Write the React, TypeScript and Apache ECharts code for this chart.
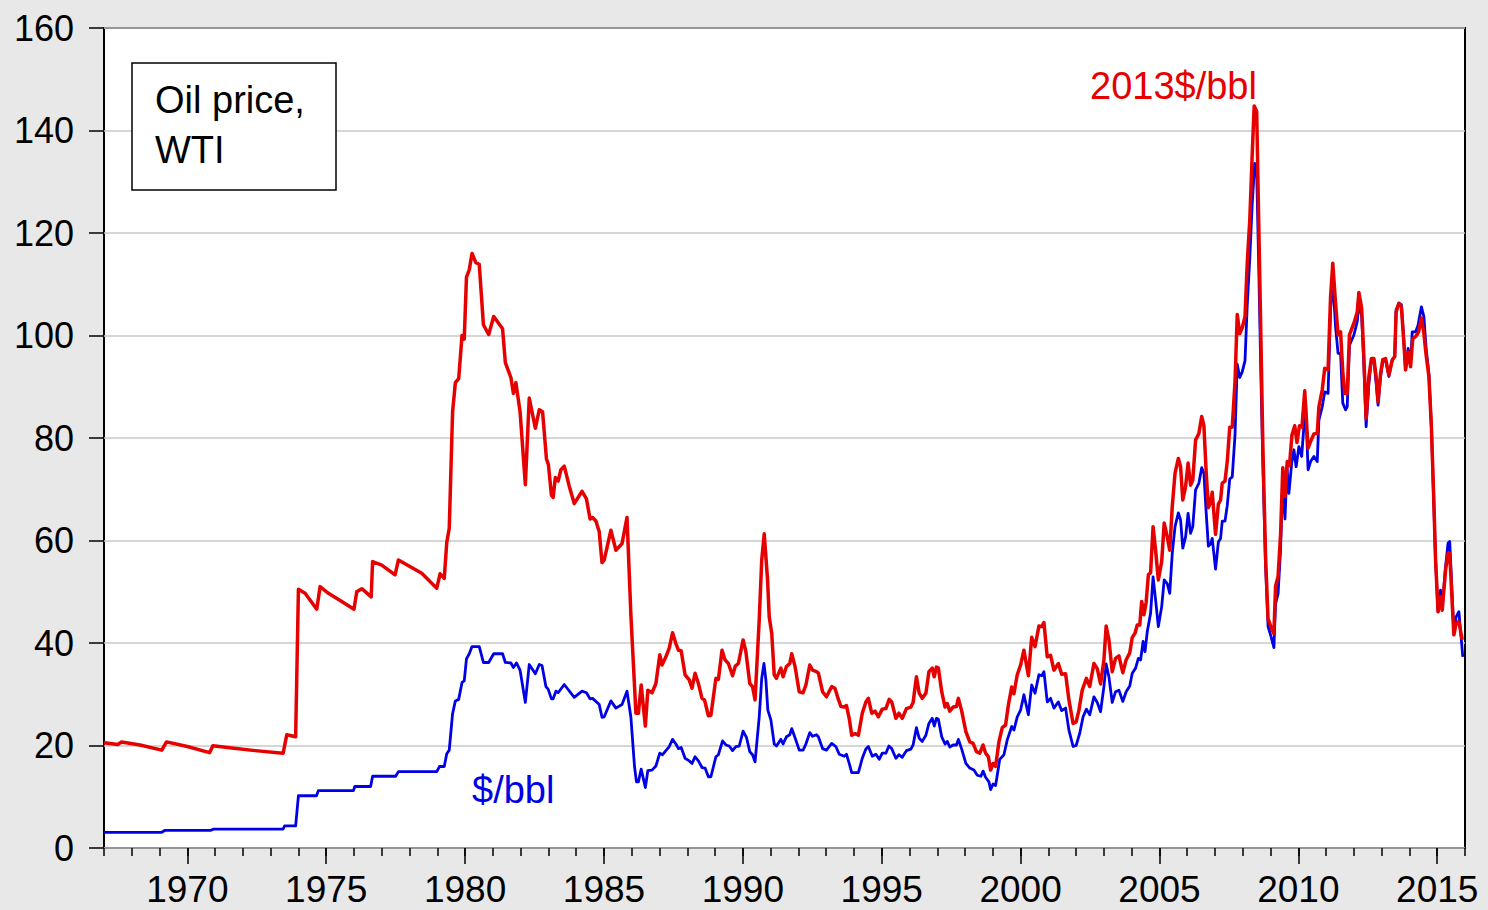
import React, { useEffect, useRef } from "react";
import * as echarts from "echarts";

const majorYears = [1970, 1975, 1980, 1985, 1990, 1995, 2000, 2005, 2010, 2015];

const nominal: [number, number][] = [
  [1967.0,3.06],[1969.08,3.06],[1969.2,3.45],[1970.85,3.45],[1970.95,3.7],[1973.45,3.7],[1973.5,4.3],[1973.9,4.3],[1974.0,10.2],[1974.65,10.2],[1974.72,11.2],[1975.98,11.2],[1976.03,12.0],[1976.6,12.0],[1976.67,14.0],[1977.5,14.0],[1977.6,14.9],[1978.98,14.9],[1979.08,15.9],[1979.25,15.9],[1979.34,18.4],[1979.43,19.1],[1979.55,26.2],[1979.65,28.7],[1979.77,29.0],[1979.89,32.3],[1979.97,32.6],[1980.05,36.9],[1980.15,37.9],[1980.25,39.3],[1980.51,39.3],[1980.66,36.2],[1980.85,36.2],[1981.03,37.9],[1981.35,37.9],[1981.45,36.2],[1981.65,36.1],[1981.74,35.2],[1981.85,36.1],[1981.98,34.7],[1982.17,28.4],[1982.31,35.8],[1982.53,34.0],[1982.67,35.8],[1982.77,35.6],[1982.91,31.5],[1982.99,31.0],[1983.11,29.1],[1983.17,29.1],[1983.27,30.6],[1983.35,30.3],[1983.57,31.9],[1983.93,29.4],[1984.21,30.6],[1984.37,30.3],[1984.5,29.1],[1984.59,29.2],[1984.83,28.0],[1984.93,25.5],[1985.01,25.6],[1985.25,28.7],[1985.43,27.3],[1985.65,28.0],[1985.83,30.6],[1985.97,25.5],[1986.1,15.9],[1986.17,12.9],[1986.24,12.9],[1986.34,15.4],[1986.49,11.8],[1986.58,15.1],[1986.73,15.2],[1986.87,16.0],
  [1987.01,18.5],[1987.11,18.2],[1987.23,19.0],[1987.35,19.8],[1987.47,21.2],[1987.59,20.3],[1987.68,19.4],[1987.78,19.6],[1987.92,17.5],[1988.07,17.0],[1988.17,16.5],[1988.28,17.8],[1988.4,17.0],[1988.53,15.7],[1988.64,15.6],[1988.76,13.9],[1988.85,13.9],[1989.03,17.8],[1989.12,18.2],[1989.27,20.9],[1989.39,20.1],[1989.51,19.9],[1989.63,19.0],[1989.75,19.8],[1989.87,19.9],[1990.01,22.8],[1990.13,21.6],[1990.25,18.8],[1990.35,18.2],[1990.44,16.8],[1990.59,25.6],[1990.68,33.1],[1990.76,36.0],[1990.83,32.8],[1990.9,26.9],[1991.01,25.0],[1991.13,20.3],[1991.21,19.9],[1991.37,21.2],[1991.45,20.3],[1991.57,21.7],[1991.69,22.1],[1991.76,23.3],[1991.88,21.5],[1992.03,19.1],[1992.17,19.1],[1992.27,20.3],[1992.41,22.5],[1992.51,21.8],[1992.65,22.1],[1992.72,21.7],[1992.87,19.4],[1993.01,19.1],[1993.2,20.4],[1993.35,19.8],[1993.47,18.3],[1993.65,17.9],[1993.73,18.3],[1993.83,16.5],[1993.92,14.7],[1994.16,14.7],[1994.3,17.5],[1994.43,19.3],[1994.52,19.8],[1994.66,17.9],[1994.79,18.3],[1994.91,17.3],[1995.02,18.5],[1995.15,18.5],[1995.26,19.9],[1995.36,19.4],[1995.51,17.5],[1995.62,18.2],[1995.74,17.7],[1995.89,19.0],[1996.05,19.3],[1996.13,20.1],[1996.25,23.5],[1996.35,21.4],[1996.46,20.8],[1996.59,22.0],[1996.7,24.3],[1996.82,25.3],[1996.89,23.8],[1996.97,25.3],[1997.04,25.1],[1997.16,21.7],[1997.28,20.3],[1997.36,20.8],[1997.45,19.7],[1997.57,20.1],[1997.69,20.1],[1997.76,21.2],[1997.88,19.3],[1998.03,16.5],[1998.17,15.6],[1998.32,15.2],[1998.44,14.2],[1998.57,14.0],[1998.65,15.0],[1998.74,13.8],[1998.86,12.9],[1998.92,11.4],[1999.01,12.5],[1999.1,12.2],[1999.25,17.3],[1999.4,18.2],[1999.52,21.1],[1999.68,23.7],[1999.76,23.0],[1999.88,25.6],
  [2000.0,26.9],[2000.12,29.9],[2000.28,26.0],[2000.4,31.8],[2000.52,30.2],[2000.66,33.8],[2000.76,33.6],[2000.84,34.4],[2000.96,28.5],[2001.08,29.2],[2001.2,27.3],[2001.36,28.5],[2001.48,26.8],[2001.62,27.3],[2001.74,23.0],[2001.89,19.8],[2002.0,20.0],[2002.13,22.4],[2002.25,25.6],[2002.37,27.1],[2002.49,26.0],[2002.64,29.5],[2002.76,28.4],[2002.88,26.6],[2003.0,31.5],[2003.08,35.9],[2003.18,33.4],[2003.3,28.4],[2003.42,30.5],[2003.54,30.8],[2003.68,28.6],[2003.8,30.5],[2003.93,31.6],[2004.02,34.1],[2004.14,35.1],[2004.24,37.0],[2004.32,36.7],[2004.41,40.3],[2004.48,38.3],[2004.56,42.2],[2004.68,45.8],[2004.77,52.9],[2004.86,48.4],[2004.96,43.2],[2005.08,47.1],[2005.17,52.3],[2005.28,51.6],[2005.37,49.7],[2005.46,57.5],[2005.56,62.7],[2005.68,65.4],[2005.76,64.0],[2005.84,58.5],[2005.94,60.7],[2006.03,65.3],[2006.12,61.4],[2006.2,62.7],[2006.3,69.9],[2006.42,71.2],[2006.52,74.2],[2006.6,73.1],[2006.68,65.6],[2006.76,58.9],[2006.84,59.3],[2006.9,60.4],[2006.96,57.4],[2007.02,54.4],[2007.12,59.7],[2007.2,60.4],[2007.26,63.8],[2007.36,63.8],[2007.44,66.8],[2007.53,72.0],[2007.62,72.4],[2007.72,80.6],[2007.8,94.4],[2007.89,91.8],[2007.98,92.9],[2008.08,95.1],[2008.16,106.0],[2008.25,114.9],[2008.34,125.8],[2008.43,133.6],[2008.5,132.1],[2008.58,111.9],[2008.65,92.5],[2008.72,75.4],[2008.82,55.2],[2008.91,43.2],[2009.01,41.4],[2009.12,39.1],[2009.18,47.7],[2009.27,49.6],[2009.36,58.2],[2009.43,70.5],[2009.52,64.2],[2009.59,74.4],[2009.66,69.2],[2009.76,75.1],[2009.84,77.7],[2009.92,74.4],
  [2010.02,78.3],[2010.12,76.4],[2010.26,86.8],[2010.35,73.8],[2010.44,75.4],[2010.56,76.4],[2010.68,75.4],[2010.74,83.5],[2010.86,86.1],[2010.95,89.0],[2011.07,88.7],[2011.16,105.0],[2011.24,110.8],[2011.34,101.7],[2011.43,96.5],[2011.52,96.5],[2011.6,86.8],[2011.7,85.5],[2011.76,86.1],[2011.84,98.1],[2012.0,100.1],[2012.12,102.7],[2012.18,106.3],[2012.28,103.7],[2012.36,93.9],[2012.44,82.2],[2012.54,90.7],[2012.63,95.2],[2012.72,95.2],[2012.8,90.7],[2012.87,86.4],[2012.96,92.0],[2013.04,94.9],[2013.14,95.2],[2013.26,92.0],[2013.38,95.2],[2013.47,95.9],[2013.52,105.0],[2013.62,106.3],[2013.71,106.0],[2013.8,98.8],[2013.86,93.3],[2013.95,97.5],[2014.04,94.6],[2014.1,100.7],[2014.22,100.7],[2014.31,102.0],[2014.43,105.6],[2014.52,103.7],[2014.6,97.5],[2014.7,92.6],[2014.79,82.2],[2014.88,66.6],[2014.94,56.2],[2015.03,46.1],[2015.12,50.3],[2015.18,46.8],[2015.3,54.9],[2015.39,59.5],[2015.45,59.8],[2015.54,49.0],[2015.6,41.9],[2015.68,45.1],[2015.78,46.1],[2015.88,39.9],[2015.92,37.3]
];

const real2013: [number, number][] = [
  [1967.0,20.55],[1967.5,20.2],[1967.63,20.7],[1968.3,20.1],[1969.08,19.1],[1969.25,20.7],[1970.0,19.8],[1970.8,18.6],[1970.92,19.95],[1971.6,19.5],[1972.44,19.0],[1973.45,18.5],[1973.58,22.1],[1973.9,21.7],[1974.0,50.5],[1974.24,49.7],[1974.66,46.6],[1974.78,51.0],[1975.08,49.7],[1975.56,48.1],[1976.0,46.6],[1976.1,50.0],[1976.28,50.6],[1976.62,49.0],[1976.67,55.9],[1977.0,55.2],[1977.48,53.3],[1977.6,56.2],[1978.44,53.6],[1978.98,50.7],[1979.1,53.5],[1979.25,52.6],[1979.34,59.6],[1979.43,62.4],[1979.55,85.1],[1979.65,90.8],[1979.77,91.6],[1979.89,100],[1979.97,99.3],[1980.05,111.4],[1980.15,112.8],[1980.25,116],[1980.39,114.2],[1980.51,113.9],[1980.66,102.1],[1980.85,100.2],[1981.03,103.7],[1981.35,101.3],[1981.45,94.7],[1981.65,91.8],[1981.74,88.7],[1981.83,90.8],[1981.98,85.1],[1982.17,70.9],[1982.31,87.8],[1982.53,81.9],[1982.67,85.5],[1982.79,85.1],[1982.93,75.9],[1983.0,74.8],[1983.11,68.8],[1983.17,68.4],[1983.25,72.3],[1983.35,71.6],[1983.45,73.8],[1983.57,74.5],[1983.75,70.6],[1983.93,67.2],[1984.21,69.6],[1984.37,68.1],[1984.5,64.2],[1984.59,64.5],[1984.71,63.8],[1984.83,61.7],[1984.93,55.7],[1985.01,56.2],[1985.25,62.0],[1985.43,58.1],[1985.65,59.4],[1985.83,64.5],[1985.97,45.4],[1986.15,26.3],[1986.24,26.3],[1986.34,31.8],[1986.49,23.8],[1986.58,30.8],[1986.73,30.3],[1986.87,32.1],
  [1987.01,37.7],[1987.09,35.7],[1987.23,37.3],[1987.35,39.0],[1987.47,42.0],[1987.59,39.9],[1987.68,38.6],[1987.78,38.5],[1987.92,33.8],[1988.07,32.8],[1988.17,31.2],[1988.28,34.1],[1988.4,32.1],[1988.53,29.2],[1988.62,28.9],[1988.76,25.8],[1988.85,25.9],[1989.03,33.1],[1989.12,32.9],[1989.25,38.6],[1989.36,36.7],[1989.48,36.0],[1989.63,33.6],[1989.73,35.5],[1989.84,36.0],[1990.01,40.6],[1990.11,38.3],[1990.25,32.1],[1990.35,31.5],[1990.44,28.9],[1990.59,44.5],[1990.68,56.2],[1990.77,61.3],[1990.89,52.3],[1990.95,45.1],[1991.04,41.9],[1991.13,33.8],[1991.21,33.1],[1991.37,35.1],[1991.45,33.4],[1991.57,35.4],[1991.69,36.0],[1991.76,37.9],[1991.88,35.4],[1992.03,30.5],[1992.17,30.3],[1992.27,31.8],[1992.41,35.7],[1992.51,34.7],[1992.65,34.4],[1992.72,34.1],[1992.87,30.5],[1993.01,29.5],[1993.2,31.5],[1993.32,31.1],[1993.41,29.5],[1993.53,27.6],[1993.65,27.5],[1993.73,27.8],[1993.83,25.3],[1993.92,22.0],[1994.04,22.3],[1994.16,22.0],[1994.3,26.3],[1994.43,28.5],[1994.52,29.2],[1994.64,26.3],[1994.76,26.7],[1994.88,25.6],[1995.02,27.1],[1995.15,27.2],[1995.27,29.0],[1995.36,28.5],[1995.51,25.3],[1995.62,26.3],[1995.74,25.3],[1995.89,27.2],[1996.05,27.5],[1996.13,28.4],[1996.25,33.4],[1996.35,30.2],[1996.46,29.2],[1996.59,30.2],[1996.7,34.4],[1996.82,35.1],[1996.89,33.4],[1996.97,35.3],[1997.04,35.1],[1997.16,30.5],[1997.28,27.5],[1997.36,28.2],[1997.45,26.7],[1997.57,27.5],[1997.69,27.6],[1997.76,29.2],[1997.88,26.7],[1998.03,22.7],[1998.17,20.7],[1998.29,20.4],[1998.41,18.8],[1998.53,18.5],[1998.65,20.1],[1998.74,18.5],[1998.84,17.8],[1998.92,15.2],[1999.01,16.5],[1999.1,15.9],[1999.22,20.7],[1999.34,23.5],[1999.46,24.0],[1999.56,27.9],[1999.68,31.4],[1999.76,30.1],[1999.88,33.8],
  [2000.0,35.7],[2000.12,38.6],[2000.28,33.6],[2000.4,41.1],[2000.52,39.3],[2000.66,43.3],[2000.76,43.2],[2000.84,44.0],[2000.96,37.3],[2001.08,37.6],[2001.2,34.7],[2001.36,36.0],[2001.48,33.9],[2001.62,34.0],[2001.74,28.9],[2001.89,24.3],[2002.0,24.6],[2002.1,26.9],[2002.22,30.8],[2002.37,33.1],[2002.49,31.5],[2002.64,36.0],[2002.76,35.0],[2002.88,32.0],[2003.0,36.7],[2003.08,43.3],[2003.18,40.6],[2003.3,34.4],[2003.42,37.0],[2003.54,37.5],[2003.68,34.2],[2003.8,36.7],[2003.93,38.1],[2004.02,41.1],[2004.12,41.9],[2004.2,43.5],[2004.29,43.5],[2004.36,48.1],[2004.44,45.5],[2004.52,47.9],[2004.6,53.3],[2004.68,53.7],[2004.77,62.7],[2004.86,58.1],[2004.96,52.3],[2005.08,55.9],[2005.17,63.4],[2005.28,60.7],[2005.37,58.1],[2005.46,66.6],[2005.56,73.1],[2005.68,76.0],[2005.76,74.4],[2005.84,67.9],[2005.94,70.5],[2006.03,75.1],[2006.12,70.8],[2006.2,71.8],[2006.3,79.6],[2006.42,80.9],[2006.52,84.2],[2006.6,82.4],[2006.68,73.5],[2006.76,66.4],[2006.84,67.5],[2006.9,69.4],[2006.96,65.3],[2007.02,61.2],[2007.12,67.1],[2007.2,67.9],[2007.26,71.2],[2007.36,71.6],[2007.44,75.4],[2007.53,82.1],[2007.62,82.1],[2007.72,91.0],[2007.8,104.1],[2007.89,100.4],[2007.98,101.5],[2008.08,103.7],[2008.16,114.2],[2008.25,122.4],[2008.34,135.5],[2008.41,144.8],[2008.5,143.7],[2008.58,120.2],[2008.65,100.0],[2008.72,79.1],[2008.82,56.7],[2008.91,44.7],[2009.01,43.2],[2009.12,41.8],[2009.18,51.1],[2009.27,53.0],[2009.36,61.2],[2009.44,74.2],[2009.52,68.6],[2009.6,75.4],[2009.68,74.6],[2009.77,80.6],[2009.87,82.4],[2009.95,79.1],
  [2010.04,82.4],[2010.13,82.1],[2010.23,89.2],[2010.35,78.0],[2010.44,79.3],[2010.56,80.8],[2010.68,80.9],[2010.74,86.1],[2010.86,89.4],[2010.95,93.6],[2011.07,93.3],[2011.16,107.6],[2011.24,114.1],[2011.34,106.3],[2011.43,100.1],[2011.52,100.7],[2011.6,92.9],[2011.67,88.7],[2011.76,88.7],[2011.84,100.1],[2012.0,102.4],[2012.12,104.6],[2012.18,108.4],[2012.28,105.3],[2012.36,95.9],[2012.44,83.8],[2012.54,92.0],[2012.63,95.5],[2012.72,95.5],[2012.8,92.0],[2012.87,87.1],[2012.96,92.6],[2013.04,95.3],[2013.14,95.5],[2013.26,92.3],[2013.38,95.2],[2013.47,95.9],[2013.52,104.6],[2013.62,106.3],[2013.71,105.6],[2013.8,98.5],[2013.86,93.3],[2013.95,96.8],[2014.04,93.9],[2014.12,99.4],[2014.24,99.9],[2014.33,100.7],[2014.43,103.4],[2014.52,100.4],[2014.6,96.2],[2014.7,92.0],[2014.79,82.2],[2014.88,67.3],[2014.94,56.2],[2015.03,46.1],[2015.12,49.0],[2015.18,46.4],[2015.3,54.2],[2015.39,57.5],[2015.45,57.5],[2015.54,47.7],[2015.6,41.6],[2015.68,43.8],[2015.78,44.2],[2015.9,40.6]
];

const FONT = "'Liberation Sans', Arial, sans-serif";

export default function App() {
  const ref = useRef<HTMLDivElement>(null);
  useEffect(() => {
    if (!ref.current) return;
    const chart = echarts.init(ref.current, null, { renderer: "svg" });
    const tickLine = { color: "#000", width: 1.5 };
    chart.setOption({
      animation: false,
      backgroundColor: "#e8e8e8",
      grid: {
        left: 104, right: 23, top: 28, bottom: 62,
        show: true, backgroundColor: "#ffffff", borderColor: "#000", borderWidth: 2,
      },
      xAxis: [
        {
          type: "value", min: 1967, max: 2016, interval: 1, position: "bottom",
          axisLine: { show: false },
          axisTick: { show: true, length: 8, lineStyle: tickLine },
          axisLabel: { show: false },
          splitLine: { show: false },
        },
        {
          type: "value", min: 1967, max: 2016, position: "bottom",
          axisLine: { show: false },
          axisTick: { show: true, length: 16, customValues: majorYears, lineStyle: tickLine },
          axisLabel: {
            show: true, customValues: majorYears, fontSize: 37, lineHeight: 37, fontFamily: FONT,
            color: "#000", margin: 23, formatter: (v: number) => String(v),
          },
          splitLine: { show: false },
        },
      ],
      yAxis: {
        type: "value", min: 0, max: 160, interval: 20,
        axisLine: { show: false },
        axisTick: { show: true, length: 15, lineStyle: tickLine },
        axisLabel: {
          fontSize: 36, lineHeight: 36, fontFamily: FONT, color: "#000", margin: 30,
          padding: [0, 0, 8, 0],
        },
        splitLine: { show: true, lineStyle: { color: "#c8c8c8", width: 1.5 } },
      },
      series: [
        {
          name: "$/bbl", type: "line", xAxisIndex: 0, data: nominal,
          symbol: "none", showSymbol: false,
          lineStyle: { color: "#0000e6", width: 2.8, join: "round" }, z: 2,
        },
        {
          name: "2013$/bbl", type: "line", xAxisIndex: 0, data: real2013,
          symbol: "none", showSymbol: false,
          lineStyle: { color: "#e60000", width: 3.5, join: "round" }, z: 3,
        },
      ],
      graphic: [
        {
          type: "rect", z: 100,
          shape: { x: 132, y: 63, width: 204, height: 127 },
          style: { fill: "#ffffff", stroke: "#000", lineWidth: 1.5 },
        },
        {
          type: "text", z: 101, x: 155, y: 100,
          style: { text: "Oil price,", fontSize: 38, fontFamily: FONT, fill: "#000", align: "left", verticalAlign: "middle" },
        },
        {
          type: "text", z: 101, x: 155, y: 150,
          style: { text: "WTI", fontSize: 38, fontFamily: FONT, fill: "#000", align: "left", verticalAlign: "middle" },
        },
        {
          type: "text", z: 101, x: 1090, y: 86,
          style: { text: "2013$/bbl", fontSize: 38, fontFamily: FONT, fill: "#e60000", align: "left", verticalAlign: "middle" },
        },
        {
          type: "text", z: 101, x: 472, y: 790,
          style: { text: "$/bbl", fontSize: 38, fontFamily: FONT, fill: "#0000e6", align: "left", verticalAlign: "middle" },
        },
      ],
    });
    return () => chart.dispose();
  }, []);
  return (
    <div
      ref={ref}
      style={{ position: "fixed", left: 0, top: 0, width: 1488, height: 910, background: "#e8e8e8" }}
    />
  );
}
